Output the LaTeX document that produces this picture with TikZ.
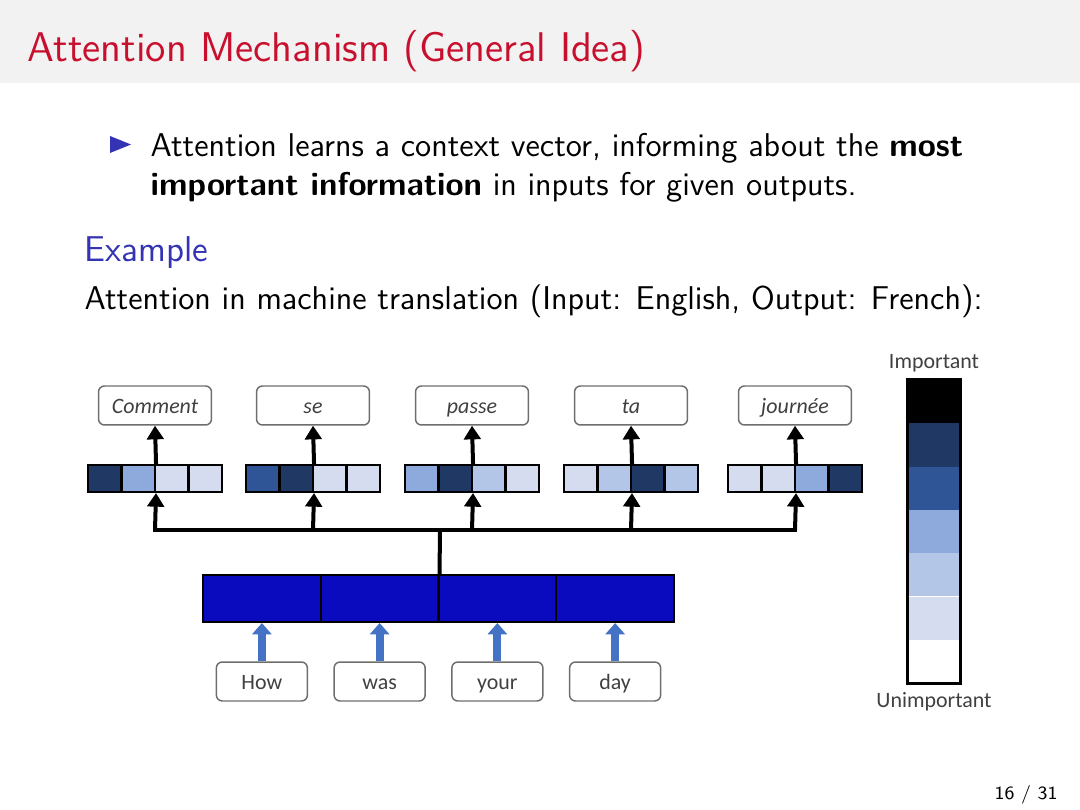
\documentclass[tikz,border=0pt]{standalone}
\usepackage{fontspec}
\newfontfamily\carlito{Carlito}
\usetikzlibrary{arrows.meta}

\definecolor{titlered}{RGB}{200,16,46}
\definecolor{titlebg}{RGB}{242,242,242}
\definecolor{struct}{RGB}{51,51,179}
\definecolor{attA}{RGB}{31,56,100}
\definecolor{attB}{RGB}{47,85,151}
\definecolor{attC}{RGB}{142,169,219}
\definecolor{attD}{RGB}{180,198,231}
\definecolor{attE}{RGB}{214,220,240}
\definecolor{encblue}{RGB}{10,10,190}
\definecolor{inblue}{RGB}{68,114,196}
\definecolor{boxgray}{RGB}{110,110,110}
\definecolor{wordgray}{RGB}{64,64,64}

\begin{document}
\begin{tikzpicture}[
    x = 0.0118519cm,
    y = -0.0118519cm,
    slide/.style = {
        font       = \sffamily\fontsize{11.1}{13.6}\selectfont,
        anchor     = base west,
        inner sep  = 0pt
    },
    outbox/.style = {
        draw = boxgray, rounded corners = 2pt, line width = 0.5pt,
        minimum width = 38.1pt, minimum height = 13.15pt, inner sep = 0pt,
        text height = 6.2pt, text depth = 0.6pt,
        text = wordgray, font = \carlito\itshape\fontsize{7.4}{8}\selectfont
    },
    inbox/.style = {
        draw = boxgray, rounded corners = 2pt, line width = 0.5pt,
        minimum width = 30.7pt, minimum height = 13.15pt, inner sep = 0pt,
        text height = 6.2pt, text depth = 0.6pt,
        text = wordgray, font = \carlito\fontsize{7.4}{8}\selectfont
    },
    cell/.style = {
        draw = black, line width = 0.7pt, inner sep = 0pt,
        minimum width = 11.3pt, minimum height = 9.1pt
    },
    enccell/.style = {
        draw = black, line width = 0.7pt, inner sep = 0pt, fill = encblue,
        minimum width = 39.7pt, minimum height = 15.85pt
    },
    level/.style = {
        inner sep = 0pt, minimum width = 17.5pt, minimum height = 14.6pt
    },
    scalelab/.style = {
        text = wordgray, font = \carlito\fontsize{7.4}{8}\selectfont
    },
    blackarr/.style = {
        line width = 1.35pt, -{Triangle[width=5.6pt,length=4.6pt]}
    },
    bluearr/.style = {
        draw = inblue, line width = 2.7pt, -{Triangle[width=6.4pt,length=3.8pt]}
    }
]

\useasboundingbox (0,0) rectangle (1080,810);

% ================================================================
%  CABECERA (banda gris + titulo)
% ================================================================

\fill[titlebg] (0,0) rectangle (1080,83);
\node[slide, text=titlered, font=\sffamily\fontsize{14}{17}\selectfont]
    (title) at (27,62) {Attention Mechanism (General Idea)};

% ================================================================
%  TEXTO DE LA DIAPOSITIVA
% ================================================================

\fill[struct] (110,136) -- (131,144.5) -- (110,153) -- cycle;
\node[slide] (item1) at (150,157)
    {Attention learns a context vector, informing about the \textbf{most}};
\node[slide] (item2) at (150,196)
    {\textbf{important information} in inputs for given outputs.};

\node[slide, text=struct, font=\sffamily\fontsize{12.1}{14}\selectfont]
    (extitle) at (84,262) {Example};
\node[slide] (exbody) at (84,310)
    {Attention in machine translation (Input: English, Output: French):};

% ================================================================
%  PESOS DE ATENCION + PALABRAS DE SALIDA
%  fila i: borde izq. = \lx ; celda = 33.5 px ; bus en y = 530
% ================================================================

\foreach \i/\lx/\word/\colors in {
    1/88/Comment/{attA,attC,attE,attE},
    2/246/se/{attB,attA,attE,attE},
    3/405/passe/{attC,attA,attD,attE},
    4/564/ta/{attE,attD,attA,attD},
    5/728/journée/{attE,attE,attC,attA}}{
    \foreach \c [count=\j] in \colors {
        \node[cell, fill=\c] (c\i-\j) at (\lx+33.5*\j-16.75, 478.5) {};
    }
    \node[outbox] (out\i) at (\lx+67, 405.5) {\word};
    \coordinate (bus\i) at (\lx+67, 530);
    \draw[blackarr] (c\i-2.north east) -- (out\i.south);
    \draw[blackarr] (bus\i) -- (c\i-2.south east);
}

% Bus horizontal
\draw[line width=1.35pt, line cap=rect] (bus1) -- (bus5);

% ================================================================
%  CODIFICADOR + PALABRAS DE ENTRADA
% ================================================================

\foreach \w [count=\j] in {How, was, your, day}{
    \node[enccell] (enc\j) at (203+117.75*\j-58.875, 598.5) {};
    \node[inbox] (in\j) at (203+117.75*\j-58.875, 681.5) {\w};
    \draw[bluearr] (in\j.north) -- (enc\j.south);
}

\coordinate (hub) at (440,530);
\draw[line width=1.35pt] (enc2.north east) -- (hub);

% ================================================================
%  ESCALA DE IMPORTANCIA
% ================================================================

\foreach \c [count=\k] in {black, attA, attB, attC, attD, attE, white}{
    \node[level, fill=\c] (lev\k) at (934, 380+43.3*\k-21.65) {};
}
\draw[line width=1pt] (lev1.north west) rectangle (lev7.south east);

\node[scalelab] (imp)   at (934,363) {Important};
\node[scalelab] (unimp) at (934,702) {Unimportant};

% Numero de pagina
\node[anchor=base east, inner sep=0pt, font=\sffamily\fontsize{6.3}{7}\selectfont]
    (pagenum) at (1058,799) {16 / 31};

\end{tikzpicture}
\end{document}
